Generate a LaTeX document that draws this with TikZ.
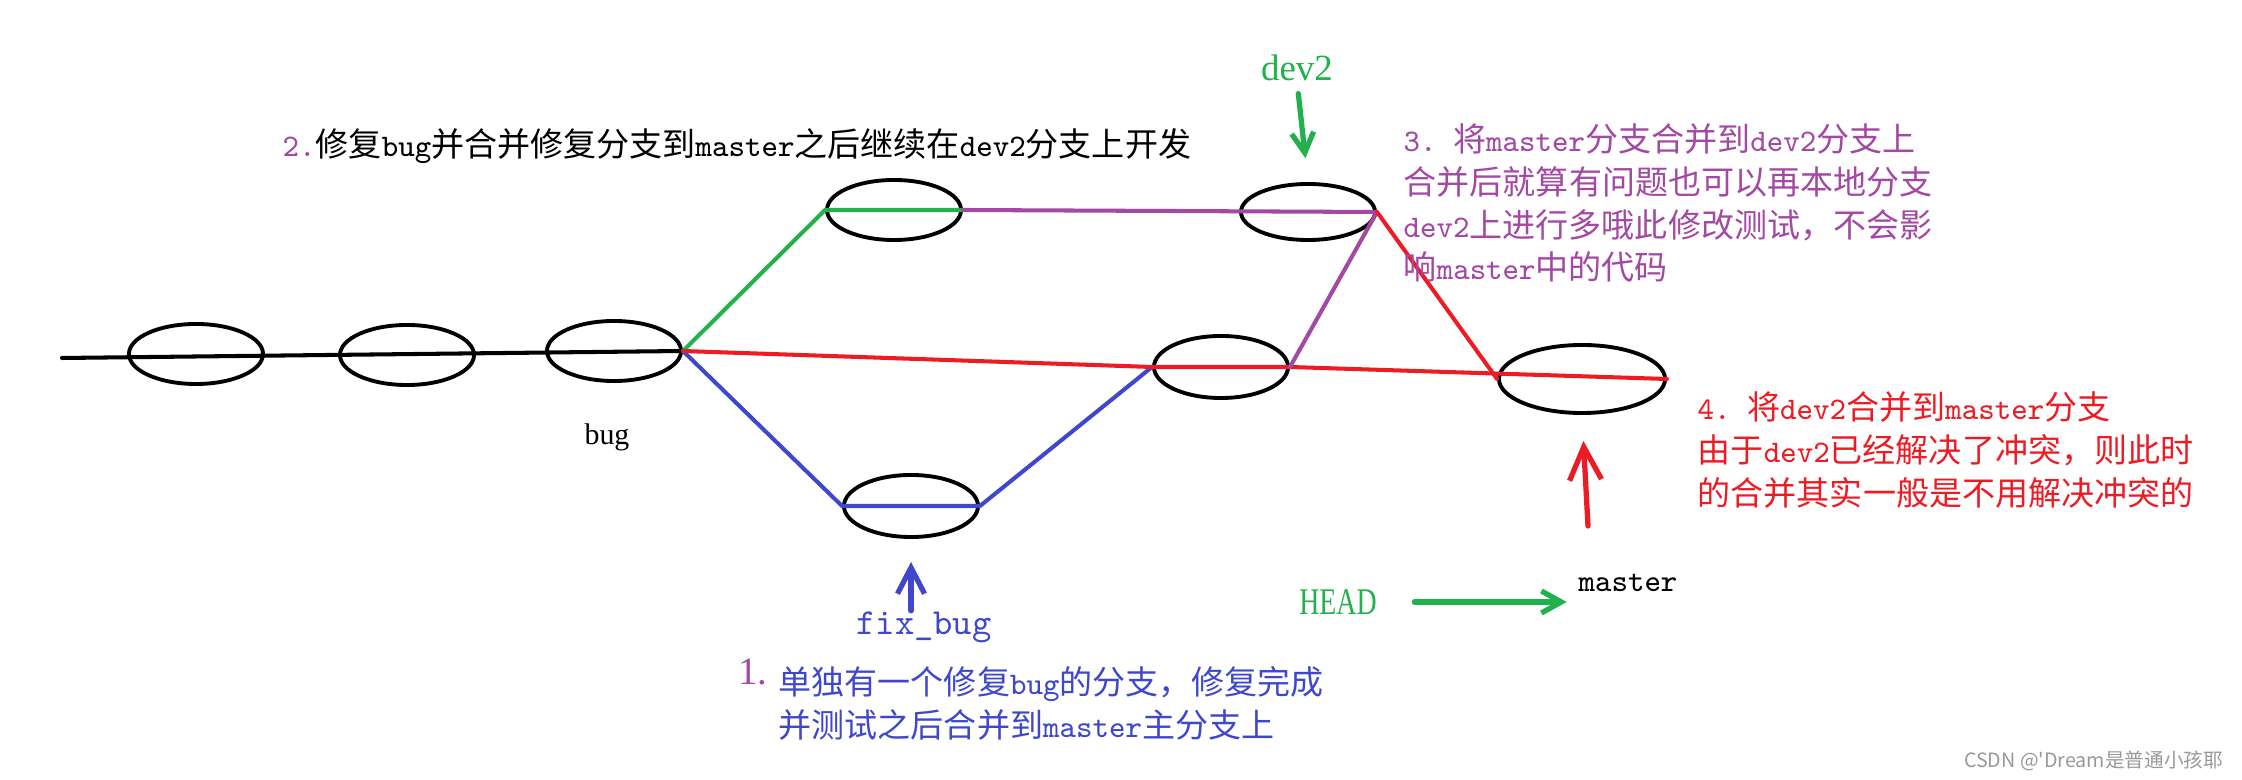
\documentclass[tikz,border=0pt]{standalone}
\usepackage{fontspec}
\usepackage{graphicx}
\setmonofont[Scale=0.95]{Latin Modern Mono}
\newfontfamily\cjk{Noto Sans CJK SC}
\newfontfamily\lbl{Liberation Serif}
\usetikzlibrary{shapes.geometric,arrows.meta}
\definecolor{pgreen}{HTML}{22B14C}
\definecolor{ppurple}{HTML}{A349A4}
\definecolor{pblue}{HTML}{3F48CC}
\definecolor{pred}{HTML}{ED1C24}
\definecolor{wmgray}{HTML}{999999}
\newcommand\T[1]{{\ttfamily #1}}
\begin{document}
\begin{tikzpicture}[x=0.01cm,y=-0.01cm,
  commit/.style={draw=black,line width=1.1pt,ellipse,minimum width=1.34cm,minimum height=0.60cm,inner sep=0pt},
  branch/.style={line width=1.15pt,line join=round,line cap=round},
  pointer/.style={line width=1.5pt,line cap=round},
  body/.style={font=\cjk\fontsize{9.4}{12.2}\selectfont,align=left,inner sep=0pt,anchor=west},
  label/.style={inner sep=0pt}
]
\useasboundingbox (0,0) rectangle (2242,780);
\fill[white] (0,0) rectangle (2242,780);

% commits
\node[commit] (e1) at (196,354) {};
\node[commit] (e2) at (407,355) {};
\node[commit] (e3) at (614,351) {};
\node[commit] (e4) at (894,210) {};
\node[commit,minimum height=0.56cm] (e5) at (1308,212) {};
\node[commit,minimum height=0.62cm] (e6) at (1221,367) {};
\node[commit,minimum height=0.62cm] (e7) at (911,506) {};
\node[commit,minimum width=1.66cm,minimum height=0.68cm] (e8) at (1582,379) {};

% branches
\coordinate (start) at (62,358);
\draw[branch,black] (start) -- (e3.east);
\draw[branch,pgreen] (e3.east) -- (e4.west) -- (e4.east);
\draw[branch,pblue] (e3.east) -- (e7.west) -- (e7.east) -- (e6.west);
\draw[branch,pred] (e3.east) -- (e6.west) -- (e6.east) -- (e8.east);
\draw[branch,ppurple] (e4.east) -- (e5.east) -- (e6.east);
\draw[branch,pred] (e5.east) -- (e8.west);

% labels
\node[label,font=\lbl\fontsize{8.5}{10}\selectfont] (buglbl) at (607,437) {bug};
\node[label,font=\lbl\fontsize{10.5}{12}\selectfont,text=pgreen] (dev2lbl) at (1297,68) {dev2};
\node[label,font=\ttfamily\fontsize{11}{13}\selectfont,text=pblue] (fixlbl) at (924,627) {fix\_bug};
\node[label,font=\lbl\fontsize{10.7}{12}\selectfont,text=pgreen] (headlbl) at (1338,602) {\scalebox{0.74}[1]{HEAD}};
\node[label,font=\ttfamily\fontsize{9.4}{11}\selectfont] (masterlbl) at (1628,583) {master};

% pointers
\draw[pointer,pgreen,-{Straight Barb[length=0.2cm,width=0.22cm]},shorten <=0.12cm,shorten >=0.24cm] (dev2lbl.south) -- (e5.north);
\draw[pointer,pblue,-{Straight Barb[length=0.26cm,width=0.27cm]},shorten >=0.23cm] (e7.south |- fixlbl.north) -- (e7.south);
\coordinate (redtail) at (1588,526);
\draw[pointer,pred,-{Straight Barb[length=0.33cm,width=0.32cm]},shorten >=0.26cm] (redtail) -- (e8.south);
\draw[pointer,pgreen,-{Straight Barb[length=0.2cm,width=0.22cm]},shorten <=0.37cm,shorten >=0.11cm] (headlbl.east) -- (headlbl.east -| masterlbl.west);

% notes
\node[body] (note2) at (282,146) {\textcolor{ppurple}{\T{2.}}修复\T{bug}并合并修复分支到\T{master}之后继续在\T{dev2}分支上开发};
\node[body,text=ppurple] (note3) at (1403,203) {\T{3. }将\T{master}分支合并到\T{dev2}分支上\\合并后就算有问题也可以再本地分支\\\T{dev2}上进行多哦此修改测试，不会影\\响\T{master}中的代码};
\node[body,text=pred] (note4) at (1697,450) {\T{4. }将\T{dev2}合并到\T{master}分支\\由于\T{dev2}已经解决了冲突，则此时\\的合并其实一般是不用解决冲突的};
\node[label,font=\lbl\fontsize{11}{13}\selectfont,text=ppurple] (num1) at (753,672) {1.};
\node[body,text=pblue] (note1) at (778,703) {单独有一个修复\T{bug}的分支，修复完成\\并测试之后合并到\T{master}主分支上};

% watermark
\node[label,font=\cjk\fontsize{5.6}{7}\selectfont,text=wmgray,anchor=east] (wm) at (2224,761) {CSDN @\textquotesingle Dream是普通小孩耶};
\end{tikzpicture}
\end{document}
